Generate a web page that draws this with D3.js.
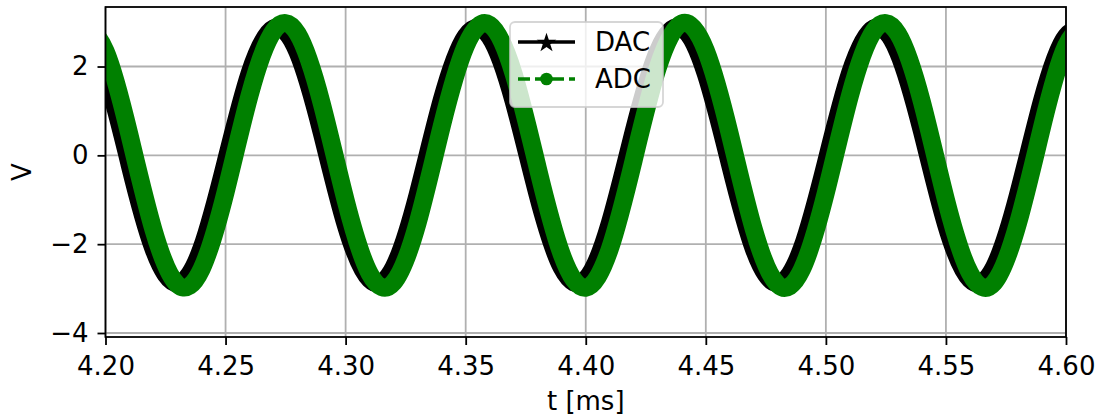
<!DOCTYPE html>
<html>
<head>
<meta charset="utf-8">
<script src="https://cdn.jsdelivr.net/npm/d3@7"></script>
<style>
body { margin: 0; background: #fff; }
text { font-family: "DejaVu Sans", sans-serif; fill: #000; }
</style>
</head>
<body>
<script>
// Data: time in ms, voltage in V
var t_ms = [4.19, 4.20, 4.21, 4.22, 4.23, 4.24, 4.25, 4.26, 4.27, 4.28, 4.29,
            4.30, 4.31, 4.32, 4.33, 4.34, 4.35, 4.36, 4.37, 4.38, 4.39,
            4.40, 4.41, 4.42, 4.43, 4.44, 4.45, 4.46, 4.47, 4.48, 4.49,
            4.50, 4.51, 4.52, 4.53, 4.54, 4.55, 4.56, 4.57, 4.58, 4.59,
            4.60, 4.61];
var dac_v = [2.85, 1.82, -0.20, -2.11, -2.88, -2.09, -0.16, 1.85, 2.86, 2.32, 0.52,
             -1.56, -2.79, -2.52, -0.88, 1.24, 2.68, 2.67, 1.21, -0.90, -2.53,
             -2.79, -1.53, 0.55, 2.34, 2.86, 1.83, -0.19, -2.11, -2.88, -2.09,
             -0.17, 1.84, 2.86, 2.33, 0.54, -1.55, -2.79, -2.52, -0.89, 1.23,
             2.68, 2.68];
var adc_v = [2.97, 2.35, 0.46, -1.68, -2.91, -2.56, -0.83, 1.35, 2.80, 2.74, 1.18,
             -1.01, -2.66, -2.86, -1.52, 0.65, 2.46, 2.94, 1.83, -0.28, -2.23,
             -2.98, -2.11, -0.10, 1.97, 2.97, 2.36, 0.48, -1.67, -2.91, -2.57,
             -0.84, 1.34, 2.80, 2.74, 1.20, -1.00, -2.65, -2.87, -1.53, 0.63,
             2.46, 2.95];
var series_names = ["DAC", "ADC"];
var x_ticks = [4.20, 4.25, 4.30, 4.35, 4.40, 4.45, 4.50, 4.55, 4.60];
var y_ticks = [-4, -2, 0, 2];

// SVG Variables
var WIDTH = 1099;
var HEIGHT = 418;
var margin = {left: 105.5, right: 1099 - 1066, top: 7, bottom: 418 - 337};
var green = "#008000";
var FONT = "26px";

var svg = d3.select("body").append("svg")
    .attr("width", WIDTH).attr("height", HEIGHT);

var x_scale = d3.scaleLinear().domain([4.20, 4.60]).range([margin.left, WIDTH - margin.right]);
var y_scale = d3.scaleLinear().domain([-4.09, 3.34]).range([HEIGHT - margin.bottom, margin.top]);

// grid (under the data)
var grid = svg.append("g").attr("stroke", "#b0b0b0").attr("stroke-width", 1.8);
grid.selectAll(".gx").data(x_ticks).enter().append("line")
    .attr("x1", function(d) { return x_scale(d); })
    .attr("x2", function(d) { return x_scale(d); })
    .attr("y1", margin.top).attr("y2", HEIGHT - margin.bottom);
grid.selectAll(".gy").data(y_ticks).enter().append("line")
    .attr("y1", function(d) { return y_scale(d); })
    .attr("y2", function(d) { return y_scale(d); })
    .attr("x1", margin.left).attr("x2", WIDTH - margin.right);

// clip to the axes box
svg.append("clipPath").attr("id", "plotclip").append("rect")
    .attr("x", margin.left).attr("y", margin.top)
    .attr("width", WIDTH - margin.right - margin.left)
    .attr("height", HEIGHT - margin.bottom - margin.top);

var line = d3.line().curve(d3.curveNatural)
    .x(function(d) { return x_scale(d[0]); })
    .y(function(d) { return y_scale(d[1]); });

var plot = svg.append("g").attr("clip-path", "url(#plotclip)");
plot.append("path")
    .attr("d", line(d3.zip(t_ms, dac_v)))
    .attr("fill", "none").attr("stroke", "#000")
    .attr("stroke-width", 18).attr("stroke-linejoin", "round").attr("stroke-linecap", "round");
plot.append("path")
    .attr("d", line(d3.zip(t_ms, adc_v)))
    .attr("fill", "none").attr("stroke", green)
    .attr("stroke-width", 18).attr("stroke-linejoin", "round").attr("stroke-linecap", "round");

// axes
var xAxis = svg.append("g")
    .attr("transform", "translate(0," + (HEIGHT - margin.bottom) + ")")
    .call(d3.axisBottom(x_scale).tickValues(x_ticks).tickSize(8).tickPadding(12)
        .tickFormat(d3.format(".2f")));
var yAxis = svg.append("g")
    .attr("transform", "translate(" + margin.left + ",0)")
    .call(d3.axisLeft(y_scale).tickValues(y_ticks).tickSize(8).tickPadding(9)
        .tickFormat(function(d) { return d < 0 ? "\u2212" + Math.abs(d) : d; }));
[xAxis, yAxis].forEach(function(a) {
    a.select(".domain").remove();
    a.selectAll(".tick line").attr("stroke", "#000").attr("stroke-width", 1.8);
    a.selectAll(".tick text").attr("font-size", FONT)
        .attr("font-family", "'DejaVu Sans', sans-serif").attr("fill", "#000");
});

// spines
svg.append("rect")
    .attr("x", margin.left).attr("y", margin.top)
    .attr("width", WIDTH - margin.right - margin.left)
    .attr("height", HEIGHT - margin.bottom - margin.top)
    .attr("fill", "none").attr("stroke", "#000").attr("stroke-width", 1.8);

// labels
svg.append("text").text("t [ms]")
    .attr("x", (margin.left + WIDTH - margin.right) / 2).attr("y", 410)
    .attr("text-anchor", "middle").attr("font-size", FONT);
svg.append("text").text("V")
    .attr("transform", "translate(31," + ((margin.top + HEIGHT - margin.bottom) / 2) + ") rotate(-90)")
    .attr("text-anchor", "middle").attr("font-size", FONT);

// legend
var legend = svg.append("g");
legend.append("rect")
    .attr("x", 510).attr("y", 22).attr("width", 153).attr("height", 85)
    .attr("rx", 5)
    .attr("fill", "#fff").attr("fill-opacity", 0.8)
    .attr("stroke", "#cccccc").attr("stroke-opacity", 0.8).attr("stroke-width", 1.8);

var rows = [
    {name: series_names[0], color: "#000", dash: null, y: 42},
    {name: series_names[1], color: green, dash: "12,5", y: 79}
];
rows.forEach(function(r) {
    legend.append("line")
        .attr("x1", 518).attr("x2", 575).attr("y1", r.y).attr("y2", r.y)
        .attr("stroke", r.color).attr("stroke-width", 3.3)
        .attr("stroke-dasharray", r.dash);
    legend.append("text").text(r.name)
        .attr("x", 595).attr("y", r.y + 9)
        .attr("font-size", FONT);
});
legend.append("path")
    .attr("d", d3.symbol().type(d3.symbolStar).size(120)())
    .attr("transform", "translate(546.5,43)")
    .attr("fill", "#000");
legend.append("circle")
    .attr("cx", 546.5).attr("cy", 79).attr("r", 6.3)
    .attr("fill", green);
</script>
</body>
</html>
